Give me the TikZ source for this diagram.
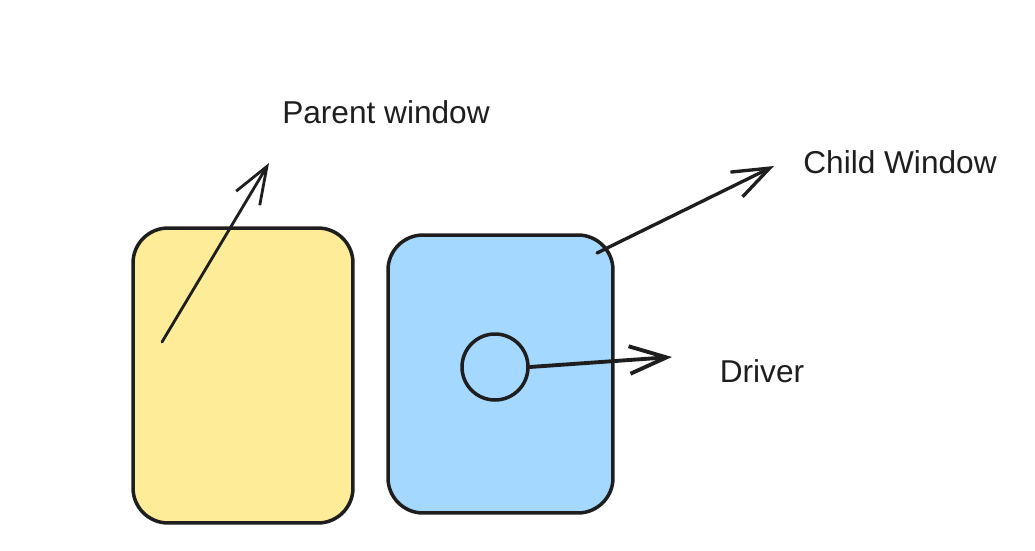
\documentclass[tikz,border=0pt]{standalone}
\usepackage{fontspec}
\setmainfont{Liberation Sans}
\usetikzlibrary{arrows.meta}
\definecolor{ink}{HTML}{1E1E1E}
\definecolor{parentfill}{HTML}{FFEC99}
\definecolor{childfill}{HTML}{A5D8FF}

\begin{document}
\begin{tikzpicture}[>={Straight Barb[length=0.74cm, width=0.55cm]}, x=0.02cm, y=-0.02cm,
    win/.style={draw=ink, line width=2pt, rounded corners=0.7cm, inner sep=0pt},
    lbl/.style={font=\fontsize{18}{22}\selectfont, text=ink},
    link/.style={->, draw=ink, line width=1.6pt, line cap=round}]
    \useasboundingbox (0,0) rectangle (1035,551);

    % Windows
    \node[win, fill=parentfill, minimum width=4.4cm, minimum height=5.9cm] (parent) at (243,375.5) {};
    \node[win, fill=childfill, minimum width=4.5cm, minimum height=5.56cm] (child) at (500.5,374) {};
    \node[draw=ink, line width=2pt, circle, fill=childfill, minimum size=1.32cm, inner sep=0pt] (driver) at (495,367) {};

    % Labels
    \node[lbl] (parentlbl) at (386,112) {Parent window};
    \node[lbl] (childlbl) at (900,162) {Child Window};
    \node[lbl] (driverlbl) at (762,371) {Driver};

    % Arrow ends
    \coordinate (parenttail) at (162,342);
    \coordinate (parenttip) at (269,163);
    \coordinate (childtail) at (597,253);
    \coordinate (childtip) at (774,166);
    \coordinate (drivertip) at (672,357);

    % Arrows
    \draw[link] (parenttail) -- (parenttip);
    \draw[link, line width=1.9pt] (childtail) -- (childtip);
    \draw[link, line width=2.2pt] (driver.east) -- (drivertip);
\end{tikzpicture}
\end{document}
